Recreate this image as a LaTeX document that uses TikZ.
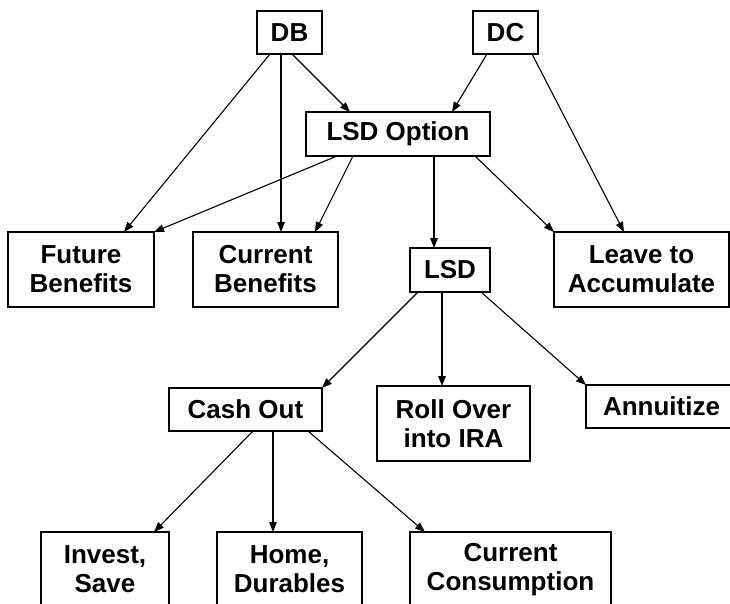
\documentclass[tikz,border=0pt]{standalone}
\usepackage{fontspec}
\newfontfamily\lbl{Liberation Sans}
\usetikzlibrary{arrows.meta}
\tikzset{
  box/.style={draw, line width=1.3pt, inner sep=0pt, outer sep=0pt, align=center,
    font=\lbl\bfseries\fontsize{26}{29}\selectfont},
  arr/.style={line width=1.1pt, -{Triangle[length=10pt,width=7.5pt]}}
}
\begin{document}
\begin{tikzpicture}[x=1pt,y=-1pt]
\useasboundingbox (0,0) rectangle (730,603);
\clip (0,0) rectangle (730,603);
\fill[white] (0,0) rectangle (730,603);
\node[box, minimum width=65pt, minimum height=43pt] (DB) at (289.5,32.5) {DB};
\node[box, minimum width=65pt, minimum height=43pt] (DC) at (505.5,32.5) {DC};
\node[box, minimum width=184pt, minimum height=44pt] (LO) at (398,134) {LSD Option};
\node[box, minimum width=146pt, minimum height=75pt] (FB) at (81,269.5) {Future\\Benefits};
\node[box, minimum width=145pt, minimum height=75pt] (CB) at (265.5,269.5) {Current\\Benefits};
\node[box, minimum width=80pt, minimum height=44pt] (LSD) at (450,270) {LSD};
\node[box, minimum width=175pt, minimum height=75pt] (LA) at (641.5,269.5) {Leave to\\Accumulate};
\node[box, minimum width=153pt, minimum height=43pt] (CO) at (245.5,409.5) {Cash Out};
\node[box, minimum width=153pt, minimum height=75pt] (RO) at (453.5,423.5) {Roll Over\\into IRA};
\node[box, minimum width=151pt, minimum height=43pt] (AN) at (661.5,406.5) {Annuitize};
\node[box, minimum width=128pt, minimum height=75pt] (IS) at (105,569.5) {Invest,\\Save};
\node[box, minimum width=145pt, minimum height=75pt] (HD) at (289.5,569.5) {Home,\\Durables};
\node[box, minimum width=201pt, minimum height=75pt] (CC) at (510.5,569.5) {Current\\Consumption};

\draw[arr] ([xshift=-19.5pt]DB.south) -- ([xshift=43pt]FB.north);
\draw[arr] ([xshift=-8.5pt]DB.south) -- ([xshift=15.5pt]CB.north);
\draw[arr] ([xshift=2.5pt]DB.south) -- ([xshift=-48pt]LO.north);
\draw[arr] ([xshift=-18.5pt]DC.south) -- ([xshift=54pt]LO.north);
\draw[arr] ([xshift=26.5pt]DC.south) -- ([xshift=-17.5pt]LA.north);
\draw[arr] ([xshift=-61pt]LO.south) -- (FB.north east);
\draw[arr] ([xshift=-45pt]LO.south) -- ([xshift=49.5pt]CB.north);
\draw[arr] ([xshift=36pt]LO.south) -- ([xshift=-16pt]LSD.north);
\draw[arr] ([xshift=77pt]LO.south) -- (LA.north west);
\draw[arr] ([xshift=-32pt]LSD.south) -- (CO.north east);
\draw[arr] ([xshift=-8pt]LSD.south) -- ([xshift=-11.5pt]RO.north);
\draw[arr] ([xshift=31pt]LSD.south) -- (AN.north west);
\draw[arr] ([xshift=7.5pt]CO.south) -- ([xshift=49pt]IS.north);
\draw[arr] ([xshift=27.5pt]CO.south) -- ([xshift=-16.5pt]HD.north);
\draw[arr] ([xshift=62.5pt]CO.south) -- ([xshift=-85.5pt]CC.north);
\end{tikzpicture}
\end{document}
